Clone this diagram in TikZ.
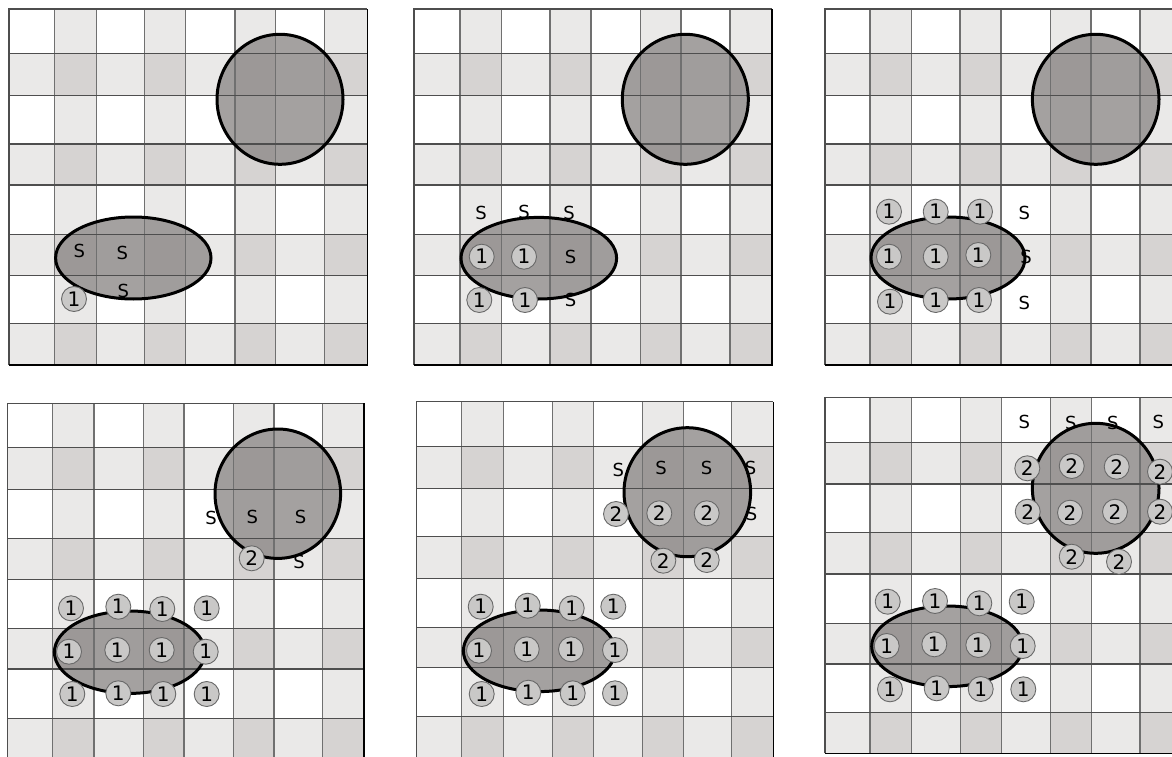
\documentclass[tikz,border=0pt]{standalone}
\usepackage{fontspec}
\setmainfont{DejaVu Sans}
\definecolor{cellA}{HTML}{EAE9E8}
\definecolor{cellB}{HTML}{D6D3D2}
\definecolor{shapefill}{RGB}{142,138,137}
\definecolor{numfill}{HTML}{C9C8C7}
\definecolor{hline}{HTML}{4E4E4E}
\definecolor{vline}{HTML}{707070}
\tikzset{
  hl/.style={draw=hline,line width=1.2pt},
  vl/.style={draw=vline,line width=1.5pt},
  borderline/.style={draw=hline,line width=1.5pt},
  blob/.style={fill=shapefill,fill opacity=0.8},
  blobline/.style={draw=black,line width=3pt},
  slab/.style={inner sep=0pt,font=\fontsize{18}{18}\selectfont},
  nlab/.style={circle,draw=hline!85,line width=0.9pt,fill=numfill,minimum size=25pt,inner sep=0pt,font=\fontsize{20}{20}\selectfont}
}
\newcommand\cellsP[2]{%
  \foreach \i in {0,...,7}{\foreach \j in {0,...,7}{%
    \pgfmathsetmacro\xa{{#1}[\i]}%
    \pgfmathsetmacro\xb{{#1}[\i+1]}%
    \pgfmathsetmacro\ya{{#2}[\j]}%
    \pgfmathsetmacro\yb{{#2}[\j+1]}%
    \pgfmathtruncatemacro\s{mod(\i,2)+mod(\j,2)}%
    \ifcase\s\def\cc{white}\or\def\cc{cellA}\or\def\cc{cellB}\fi
    \fill[\cc] (\xa,\ya) rectangle (\xb,\yb);
  }}}
\newcommand\gridP[2]{%
  \pgfmathsetmacro\yt{{#2}[0]}\pgfmathsetmacro\ybt{{#2}[8]}%
  \pgfmathsetmacro\xl{{#1}[0]}\pgfmathsetmacro\xr{{#1}[8]}%
  \foreach \i in {1,...,7}{\pgfmathsetmacro\xa{{#1}[\i]}\draw[vl] (\xa,\yt) -- (\xa,\ybt);}
  \foreach \j in {1,...,7}{\pgfmathsetmacro\ya{{#2}[\j]}\draw[hl] (\xl,\ya) -- (\xr,\ya);}
  \draw[borderline] (\xl,\ybt) -- (\xl,\yt) -- (\xr,\yt);
  \draw[draw=black,line width=1.6pt] (\xl,\ybt) -- (\xr,\ybt) -- (\xr,\yt);
}
\begin{document}
\begin{tikzpicture}[x=1pt,y=-1pt]
\useasboundingbox (0,0) rectangle (1172,757);
\clip (0,0) rectangle (1172,757);
% ---------------- Panel 1
\def\X{9,54.3,96.7,144.3,185.7,235,275.7,324.3,367.3}
\def\Y{9,53.3,95.7,144,185,234.3,275.7,323.3,365}
\cellsP{\X}{\Y}
\fill[blob] (280,99.3) ellipse [x radius=63pt,y radius=65pt];
\fill[blob] (133.3,258) ellipse [x radius=77.7pt,y radius=41pt];
\gridP{\X}{\Y}
\node[slab] (p1s1) at (79.3,250.7) {S};
\node[slab] (p1s2) at (122.3,253.3) {S};
\node[slab] (p1s3) at (123.3,291) {S};
\draw[blobline] (280,99.3) ellipse [x radius=63pt,y radius=65pt];
\draw[blobline] (133.3,258) ellipse [x radius=77.7pt,y radius=41pt];
\node[nlab] (p1n1) at (74,299) {1};
% ---------------- Panel 2
\def\X{414,460,501.7,550,591,640.7,681,730,771.7}
\cellsP{\X}{\Y}
\fill[blob] (685.3,99.3) ellipse [x radius=63pt,y radius=65pt];
\fill[blob] (538.8,258.2) ellipse [x radius=77.8pt,y radius=40.8pt];
\gridP{\X}{\Y}
\node[slab] (p2s1) at (481,213.3) {S};
\node[slab] (p2s2) at (524,211.7) {S};
\node[slab] (p2s3) at (569,213.3) {S};
\node[slab] (p2s4) at (570.7,256.7) {S};
\node[slab] (p2s5) at (570.7,300) {S};
\draw[blobline] (685.3,99.3) ellipse [x radius=63pt,y radius=65pt];
\draw[blobline] (538.8,258.2) ellipse [x radius=77.8pt,y radius=40.8pt];
\node[nlab] (p2n1) at (481.7,256.7) {1};
\node[nlab] (p2n2) at (524,256.7) {1};
\node[nlab] (p2n3) at (479.3,300) {1};
\node[nlab] (p2n4) at (525,300) {1};
% ---------------- Panel 3
\def\X{825,870,911.7,960,1001,1050.7,1091,1140,1182}
\cellsP{\X}{\Y}
\fill[blob] (1095.7,99.3) ellipse [x radius=63.3pt,y radius=65pt];
\fill[blob] (948,258) ellipse [x radius=77pt,y radius=41pt];
\gridP{\X}{\Y}
\node[slab] (p3s1) at (1024.3,213.3) {S};
\node[slab] (p3s2) at (1026,256.7) {S};
\node[slab] (p3s3) at (1024.3,303.3) {S};
\draw[blobline] (1095.7,99.3) ellipse [x radius=63.3pt,y radius=65pt];
\draw[blobline] (948,258) ellipse [x radius=77pt,y radius=41pt];
\node[nlab] (p3n1) at (889,211.7) {1};
\node[nlab] (p3n2) at (935.7,211.7) {1};
\node[nlab] (p3n3) at (980,211.7) {1};
\node[nlab] (p3n4) at (889,256.7) {1};
\node[nlab] (p3n5) at (935.7,256.7) {1};
\node[nlab] (p3n6) at (978.3,255) {1};
\node[nlab] (p3n7) at (890,301.7) {1};
\node[nlab] (p3n8) at (935.7,300) {1};
\node[nlab] (p3n9) at (979,300) {1};
% ---------------- Panel 4
\def\X{7.3,52.3,94,143.3,184,233.3,274,322.7,364}
\def\Y{403.3,447.3,489.3,538.3,579.3,628.3,669,718.3,767}
\cellsP{\X}{\Y}
\fill[blob] (277.8,493.7) ellipse [x radius=62.8pt,y radius=64.7pt];
\fill[blob] (129.7,652.2) ellipse [x radius=75.3pt,y radius=41.2pt];
\gridP{\X}{\Y}
\node[slab] (p4s1) at (211,517.7) {S};
\node[slab] (p4s2) at (252.3,516.7) {S};
\node[slab] (p4s3) at (300.7,516.7) {S};
\node[slab] (p4s4) at (299,561.7) {S};
\draw[blobline] (277.8,493.7) ellipse [x radius=62.8pt,y radius=64.7pt];
\draw[blobline] (129.7,652.2) ellipse [x radius=75.3pt,y radius=41.2pt];
\node[nlab] (p4t1) at (251.7,558.3) {2};
\node[nlab] (p4n1) at (71,608.3) {1};
\node[nlab] (p4n2) at (118.3,606.7) {1};
\node[nlab] (p4n3) at (162.3,609) {1};
\node[nlab] (p4n4) at (206.7,608.3) {1};
\node[nlab] (p4n5) at (69,651.7) {1};
\node[nlab] (p4n6) at (117.3,650) {1};
\node[nlab] (p4n7) at (161.7,650) {1};
\node[nlab] (p4n8) at (205.7,651.7) {1};
\node[nlab] (p4n9) at (72.3,694) {1};
\node[nlab] (p4n10) at (118.3,693.3) {1};
\node[nlab] (p4n11) at (163.3,694) {1};
\node[nlab] (p4n12) at (206.7,694) {1};
% ---------------- Panel 5
\def\X{416.7,461.7,503.3,552.7,593.3,642.3,683.3,731.7,773.3}
\def\Y{401.7,446.7,488.3,536.7,578.3,627.3,667.3,716.7,766}
\cellsP{\X}{\Y}
\fill[blob] (687.3,492.2) ellipse [x radius=63.3pt,y radius=64.5pt];
\fill[blob] (539.2,650.8) ellipse [x radius=75.8pt,y radius=40.8pt];
\gridP{\X}{\Y}
\node[slab] (p5s1) at (618.3,470) {S};
\node[slab] (p5s2) at (661,468.3) {S};
\node[slab] (p5s3) at (706.7,468.3) {S};
\node[slab] (p5s4) at (750.7,468.3) {S};
\node[slab] (p5s5) at (751.7,514) {S};
\draw[blobline] (687.3,492.2) ellipse [x radius=63.3pt,y radius=64.5pt];
\draw[blobline] (539.2,650.8) ellipse [x radius=75.8pt,y radius=40.8pt];
\node[nlab] (p5t1) at (616,514) {2};
\node[nlab] (p5t2) at (659.3,513.3) {2};
\node[nlab] (p5t3) at (706.7,513.3) {2};
\node[nlab] (p5t4) at (663.3,560.7) {2};
\node[nlab] (p5t5) at (706.7,560) {2};
\node[nlab] (p5n1) at (480.7,606.7) {1};
\node[nlab] (p5n2) at (527.7,605.7) {1};
\node[nlab] (p5n3) at (571.7,608.3) {1};
\node[nlab] (p5n4) at (613.3,606.7) {1};
\node[nlab] (p5n5) at (479,650.7) {1};
\node[nlab] (p5n6) at (526.7,649.3) {1};
\node[nlab] (p5n7) at (571,649.3) {1};
\node[nlab] (p5n8) at (615,650) {1};
\node[nlab] (p5n9) at (481.7,694) {1};
\node[nlab] (p5n10) at (528.3,692.7) {1};
\node[nlab] (p5n11) at (572.7,693.3) {1};
\node[nlab] (p5n12) at (615,693.3) {1};
% ---------------- Panel 6
\def\X{825,870,911.7,960.7,1001.7,1050.7,1091.7,1140,1182}
\def\Y{397.3,442.3,484,532.7,574,623.3,664,712.7,753.3}
\cellsP{\X}{\Y}
\fill[blob] (1095.7,488.3) ellipse [x radius=63.3pt,y radius=65pt];
\fill[blob] (947.2,646.3) ellipse [x radius=75.5pt,y radius=40.3pt];
\gridP{\X}{\Y}
\node[slab] (p6s1) at (1024.3,422.3) {S};
\node[slab] (p6s2) at (1070.7,423.3) {S};
\node[slab] (p6s3) at (1112.7,423.3) {S};
\node[slab] (p6s4) at (1158.3,422.3) {S};
\draw[blobline] (1095.7,488.3) ellipse [x radius=63.3pt,y radius=65pt];
\draw[blobline] (947.2,646.3) ellipse [x radius=75.5pt,y radius=40.3pt];
\node[nlab] (p6t1) at (1027.3,468.3) {2};
\node[nlab] (p6t2) at (1071.7,466) {2};
\node[nlab] (p6t3) at (1116.7,466.7) {2};
\node[nlab] (p6t4) at (1160,471.7) {2};
\node[nlab] (p6t5) at (1027.7,511.7) {2};
\node[nlab] (p6t6) at (1070,512.7) {2};
\node[nlab] (p6t7) at (1115,511.7) {2};
\node[nlab] (p6t8) at (1160,511.7) {2};
\node[nlab] (p6t9) at (1071.7,556.7) {2};
\node[nlab] (p6t10) at (1119,561.7) {2};
\node[nlab] (p6n1) at (887.7,601.7) {1};
\node[nlab] (p6n2) at (935,601) {1};
\node[nlab] (p6n3) at (979.3,603.3) {1};
\node[nlab] (p6n4) at (1021.7,601.7) {1};
\node[nlab] (p6n5) at (886.7,646) {1};
\node[nlab] (p6n6) at (934.3,644.3) {1};
\node[nlab] (p6n7) at (978.3,645) {1};
\node[nlab] (p6n8) at (1022.7,646) {1};
\node[nlab] (p6n9) at (890,689.3) {1};
\node[nlab] (p6n10) at (936.7,688.3) {1};
\node[nlab] (p6n11) at (980.7,689) {1};
\node[nlab] (p6n12) at (1023.3,689.3) {1};
\end{tikzpicture}
\end{document}
